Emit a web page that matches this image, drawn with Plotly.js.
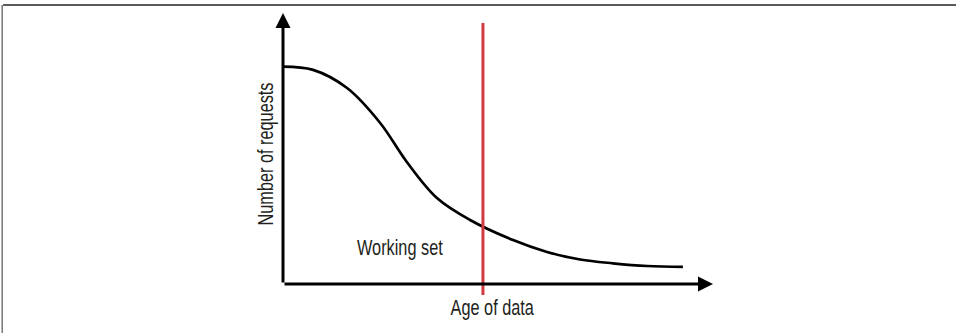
<!DOCTYPE html>
<html>
<head>
<meta charset="utf-8">
<script src="https://cdn.plot.ly/plotly-3.0.1.min.js"></script>
<style>
  body { margin: 0; padding: 0; background: #fff; }
  #chart { width: 956px; height: 333px; }
</style>
</head>
<body>
<div id="chart"></div>
<script>
// request curve (age 0-100, requests 0-100)
var ageOfData = [0, 7.0, 14.9, 22.6, 28.8, 35.8, 43.5, 53.5, 61.4, 69.1, 76.7, 84.7, 93.0];
var numRequests = [80.2, 79.0, 72.3, 59.4, 45.0, 31.7, 23.6, 16.2, 11.8, 9.0, 7.6, 6.6, 6.3];

// working set cut-off
var cutoffAge = [46.5, 46.5];
var cutoffSpan = [-4.1, 96.3];

var fontFam = '"Liberation Sans", Arial, sans-serif';
var narrow = 0.74;   // squeeze text to look like a condensed face

var curve = {
    x: ageOfData,
    y: numRequests,
    mode: 'lines',
    line: {color: '#000', width: 2.7, shape: 'spline', smoothing: 1},
    hoverinfo: 'skip'
};

var cutoff = {
    x: cutoffAge,
    y: cutoffSpan,
    mode: 'lines',
    line: {color: '#d13a40', width: 3},
    hoverinfo: 'skip'
};

var txtFont = {family: fontFam, size: 22, color: '#231f20'};

var layout = {
    width: 956,
    height: 333,
    margin: {l: 283, r: 243, t: 13, b: 38},
    showlegend: false,
    hovermode: false,
    plot_bgcolor: '#fff',
    paper_bgcolor: '#fff',
    xaxis: {range: [0, 100], visible: false, fixedrange: true},
    yaxis: {range: [-4.1, 100], visible: false, fixedrange: true},
    font: txtFont,
    annotations: [
        // axes with arrow heads
        {x: 100, y: 0, ax: 0, ay: 0, xref: 'x', yref: 'y', axref: 'x', ayref: 'y',
         text: '', showarrow: true, arrowhead: 2, arrowsize: 1, arrowwidth: 3, arrowcolor: '#000', standoff: 0},
        {x: 0, y: 100, ax: 0, ay: 0, xref: 'x', yref: 'y', axref: 'x', ayref: 'y',
         text: '', showarrow: true, arrowhead: 2, arrowsize: 1, arrowwidth: 3, arrowcolor: '#000', standoff: 0},
        {x: 27.2, y: 13.3, xref: 'x', yref: 'y', text: 'Working set', showarrow: false,
         xanchor: 'center', yanchor: 'middle', font: txtFont},
        {x: 0.487, y: -0.046, xref: 'paper', yref: 'paper', text: 'Age of data', showarrow: false,
         xanchor: 'center', yanchor: 'middle', font: txtFont},
        {x: -0.0395, y: 0.498, xref: 'paper', yref: 'paper', text: 'Number of requests', showarrow: false,
         xanchor: 'center', yanchor: 'middle', textangle: -90, font: txtFont}
    ],
    shapes: [
        // frame of the figure (top and left edges)
        {type: 'line', xref: 'paper', yref: 'paper', x0: -0.651, x1: 1.57, y0: 1.0284, y1: 1.0284,
         line: {color: '#222', width: 1.5}},
        {type: 'line', xref: 'paper', yref: 'paper', x0: -0.653, x1: -0.653, y0: 1.0284, y1: -0.14,
         line: {color: '#777', width: 1.5}}
    ]
};

var config = {displayModeBar: false, staticPlot: true};

Plotly.newPlot('chart', [curve, cutoff], layout, config).then(function(gd){
    var texts = gd.querySelectorAll('text.annotation-text');
    texts.forEach(function(t){
        if(!t.textContent) return;
        var w = t.getComputedTextLength();
        t.setAttribute('textLength', (w * narrow).toFixed(1));
        t.setAttribute('lengthAdjust', 'spacingAndGlyphs');
    });
});
</script>
</body>
</html>
